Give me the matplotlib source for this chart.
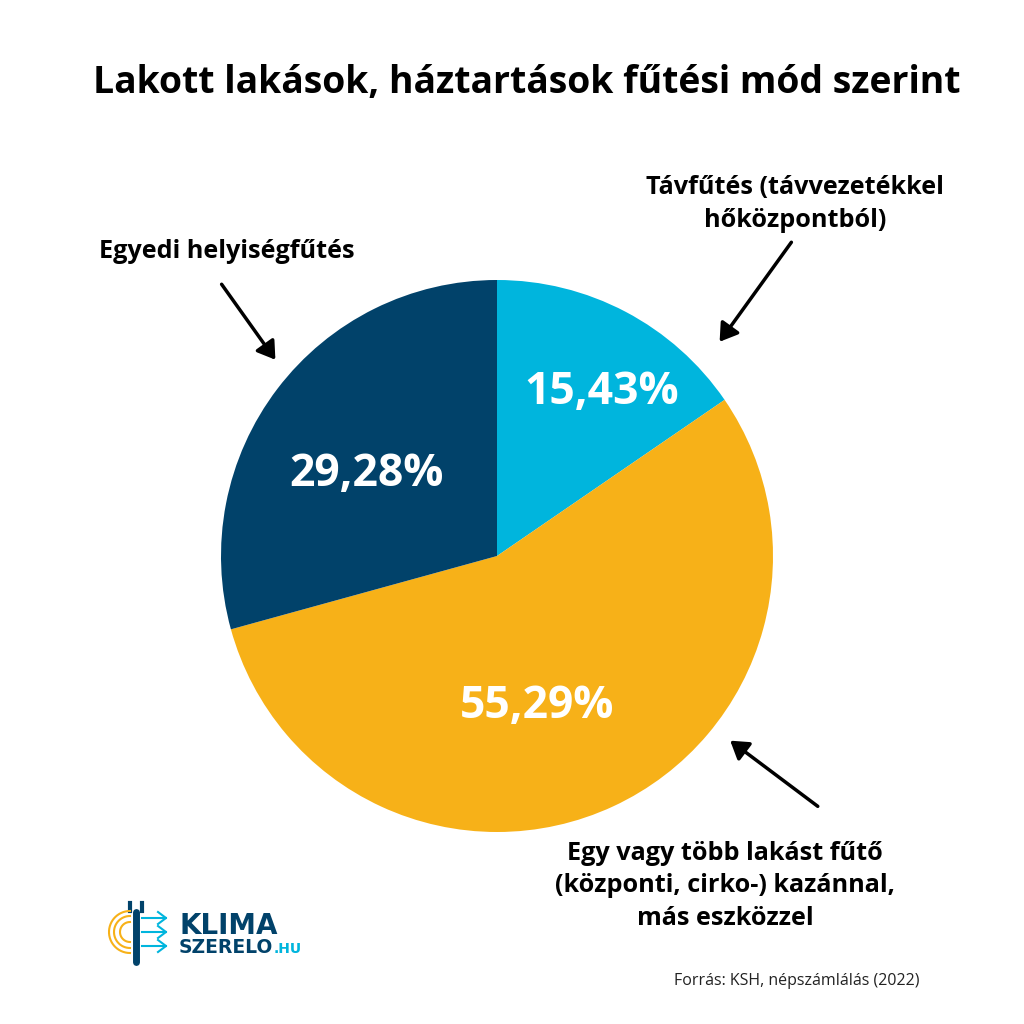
import matplotlib
matplotlib.use("Agg")
import matplotlib.pyplot as plt
from matplotlib.patches import FancyArrowPatch
import numpy as np

plt.rcParams['font.family'] = ['Open Sans', 'DejaVu Sans']

title = "Lakott lakások, háztartások fűtési mód szerint"
categories = ["Távfűtés (távvezetékkel\nhőközpontból)",
              "Egy vagy több lakást fűtő\n(központi, cirko-) kazánnal,\nmás eszközzel",
              "Egyedi helyiségfűtés"]
values = [15.43, 55.29, 29.28]
value_labels = ["15,43%", "55,29%", "29,28%"]
colors = ["#00B5DD", "#F7B118", "#01426A"]
source = "Forrás: KSH, népszámlálás (2022)"

W = H = 1024
fig = plt.figure(figsize=(10.24, 10.24), dpi=100)
fig.patch.set_facecolor("white")

def fx(x): return np.asarray(x) / W
def fy(y): return 1 - np.asarray(y) / H

cx, cy, r = 497, 556, 276
ax = fig.add_axes([fx(cx - r), fy(cy + r), 2 * r / W, 2 * r / H])
wedges, _ = ax.pie(values, colors=colors, startangle=90, counterclock=False,
                   radius=1, wedgeprops=dict(linewidth=0))
ax.set_xlim(-1, 1); ax.set_ylim(-1, 1); ax.set_aspect('equal'); ax.axis('off')

lab_pos = [(602, 392), (537, 706), (367, 475)]
for (x, y), t in zip(lab_pos, value_labels):
    fig.text(fx(x), fy(y), t, ha='center', va='center', color='white',
             fontsize=32, fontweight='bold')

fig.text(fx(527), fy(83), title, ha='center', va='center', fontsize=26.9,
         fontweight='bold', color='black')

cat_pos = [(795, 204), (725, 886), (227, 252)]
for (x, y), t in zip(cat_pos, categories):
    fig.text(fx(x), fy(y), t, ha='center', va='center', fontsize=18.2,
             fontweight='bold', color='black', linespacing=1.4)

arrows = [((793, 240), (718, 344)), ((820, 808), (728, 739)), ((220, 282), (277, 362))]
for (x0, y0), (x1, y1) in arrows:
    a = FancyArrowPatch((fx(x0), fy(y0)), (fx(x1), fy(y1)), transform=fig.transFigure,
                        arrowstyle='-|>,head_length=7,head_width=4.5', color='black',
                        linewidth=2.5, mutation_scale=1.5)
    fig.patches.append(a)

fig.text(fx(920), fy(981), source, ha='right', va='center', fontsize=11.5, color='#222222')

# logo
fig.text(fx(179), fy(934), "KLIMA", ha='left', va='baseline', fontsize=20,
         fontweight='bold', color='#01426A', family='DejaVu Sans')
fig.text(fx(179), fy(953), "SZERELO", ha='left', va='baseline', fontsize=13.5,
         fontweight='bold', color='#01426A', family='DejaVu Sans')
fig.text(fx(274), fy(953), ".HU", ha='left', va='baseline', fontsize=10,
         fontweight='bold', color='#00B5DD', family='DejaVu Sans')
fig.add_artist(plt.Line2D(fx([136, 136]), fy([912, 962]), transform=fig.transFigure,
                          color='#01426A', linewidth=5, solid_capstyle='round'))
fig.add_artist(plt.Line2D(fx([130, 130]), fy([903, 911]), transform=fig.transFigure,
                          color='#01426A', linewidth=3))
fig.add_artist(plt.Line2D(fx([142, 142]), fy([903, 911]), transform=fig.transFigure,
                          color='#01426A', linewidth=3))
th = np.linspace(np.pi/2, 3*np.pi/2, 30)
for rr in [10, 16, 21]:
    fig.add_artist(plt.Line2D(fx(130 + rr*np.cos(th)), fy(932 - rr*np.sin(th)),
                              transform=fig.transFigure, color='#F7B118', linewidth=1.5))
for yy in [918, 932, 946]:
    fig.add_artist(plt.Line2D(fx([142, 166]), fy([yy, yy]), transform=fig.transFigure,
                              color='#00B5DD', linewidth=1.5))
    fig.add_artist(plt.Line2D(fx([158, 166, 158]), fy([yy-6, yy, yy+6]),
                              transform=fig.transFigure, color='#00B5DD', linewidth=1.5))

fig.savefig("out.png", dpi=100, facecolor='white')
